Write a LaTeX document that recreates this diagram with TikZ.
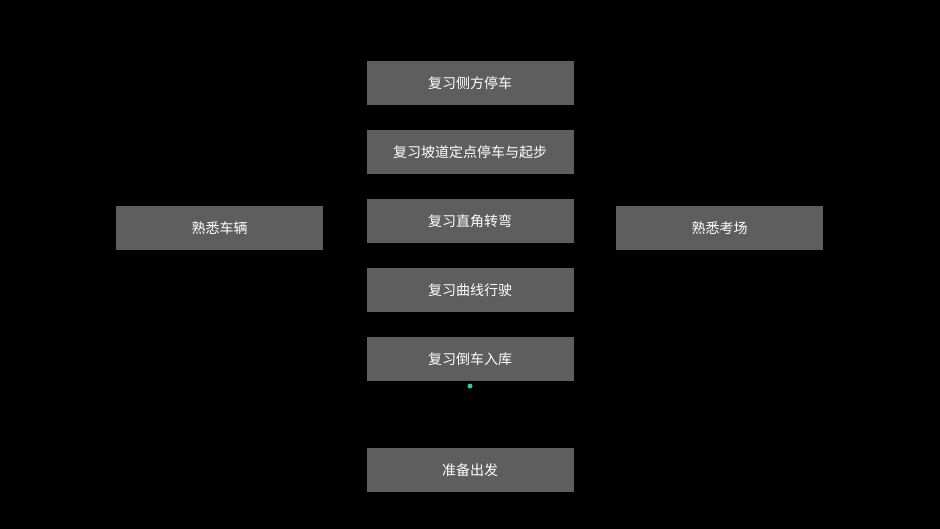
\documentclass[tikz,border=0pt]{standalone}
\usepackage{fontspec}
\setmainfont{Noto Sans CJK SC}
\definecolor{boxgray}{RGB}{94,94,94}
\definecolor{dotgreen}{RGB}{40,210,140}
\begin{document}
\begin{tikzpicture}[x=1pt,y=-1pt,
  box/.style={draw=none,fill=boxgray,text=white,minimum width=207pt,minimum height=44pt,inner sep=0pt,font=\fontsize{14pt}{16pt}\selectfont}]
\fill[black] (0,0) rectangle (940,529);
\useasboundingbox (0,0) rectangle (940,529);
\node[box] (a) at (470,83) {复习侧方停车};
\node[box] (b) at (470,152) {复习坡道定点停车与起步};
\node[box] (c) at (470,221) {复习直角转弯};
\node[box] (d) at (470,290) {复习曲线行驶};
\node[box] (e) at (470,359) {复习倒车入库};
\node[box] (f) at (470,470) {准备出发};
\node[box] (l) at (219.5,228) {熟悉车辆};
\node[box] (r) at (719.5,228) {熟悉考场};
\fill[dotgreen] (470,386) circle (2.5);
\end{tikzpicture}
\end{document}
